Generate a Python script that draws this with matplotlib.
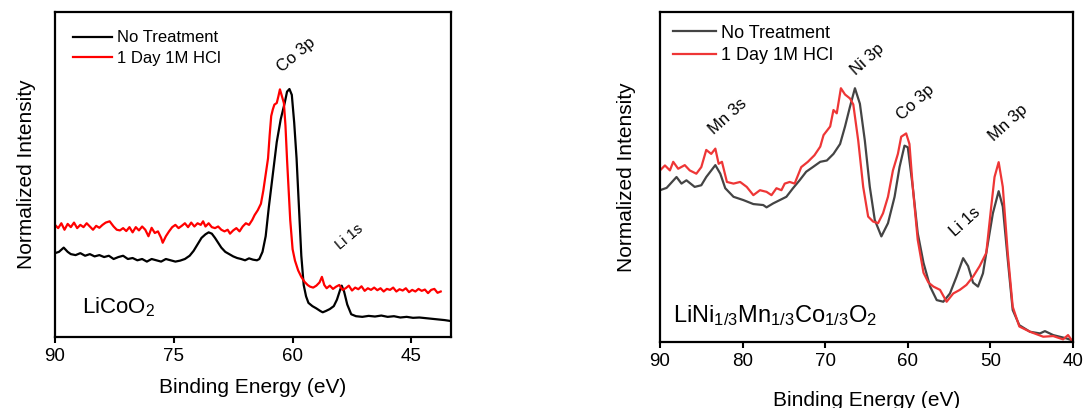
import matplotlib
matplotlib.use("Agg")
import matplotlib.pyplot as plt

plt.rcParams['font.family'] = ['Liberation Sans', 'DejaVu Sans']
plt.rcParams['mathtext.fontset'] = 'custom'
plt.rcParams['mathtext.rm'] = 'Liberation Sans'
plt.rcParams['mathtext.it'] = 'Liberation Sans:italic'
plt.rcParams['mathtext.default'] = 'regular'

# LiCoO2 panel (binding energy in eV, normalized intensity)
lco_none_x = [90, 89.5, 88.9, 88.4, 88, 87.4, 86.8, 86.2, 85.6, 85, 84.4, 83.8, 83.2, 82.6, 82, 81.4,
              80.8, 80.2, 79.6, 79, 78.4, 77.8, 77.2, 76.6, 76, 75.4, 74.8, 74.2,
              73.6, 73, 72.5, 72, 71.5, 71, 70.6, 70.2, 69.8, 69.4, 69, 68.5, 68, 67.5, 67, 66.5,
              66, 65.5, 65, 64.5, 64.2,
              63.8, 63.4, 63, 62.5, 62, 61.5, 61, 60.7, 60.4, 60.1, 59.8, 59.5, 59.2, 58.9, 58.6,
              58.3, 58,
              57.5, 57, 56.5, 56.2, 55.8, 55.3, 54.8, 54.4, 54, 53.8, 53.5, 53.1, 52.6, 52, 51.2,
              50.4, 49.6, 48.8, 48, 47.2, 46.4, 45.6, 44.8, 44, 43.2, 42.4, 41.6, 40.8, 40]
lco_none_y = [0.258, 0.262, 0.275, 0.262, 0.255, 0.252, 0.258, 0.25, 0.255, 0.248, 0.252, 0.246, 0.25,
              0.24, 0.246, 0.25, 0.24, 0.243, 0.236, 0.24, 0.232, 0.24, 0.236, 0.232, 0.24, 0.236,
              0.232, 0.235,
              0.24, 0.25, 0.265, 0.285, 0.305, 0.316, 0.322, 0.318, 0.305, 0.29, 0.275, 0.262, 0.255,
              0.248, 0.243, 0.24, 0.236, 0.242, 0.238, 0.236, 0.24,
              0.262, 0.31, 0.4, 0.5, 0.6, 0.67, 0.72, 0.755, 0.763, 0.745, 0.66, 0.55, 0.4, 0.25,
              0.16, 0.125, 0.105,
              0.095, 0.088, 0.08, 0.076, 0.08, 0.086, 0.095, 0.115, 0.145, 0.158, 0.14, 0.1, 0.07,
              0.064, 0.062, 0.065, 0.063, 0.066, 0.062, 0.064, 0.06, 0.062, 0.059, 0.06, 0.058,
              0.056, 0.054, 0.052, 0.049]
lco_hcl_x = [90, 89.6, 89.2, 88.8, 88.4, 88, 87.6, 87.2, 86.8, 86.4, 86, 85.6, 85.2, 84.8, 84.4, 84,
             83.6, 83.1, 82.6, 82.2,
             81.8, 81.4, 81, 80.6, 80.2, 79.8, 79.4, 79, 78.6, 78.2, 77.8, 77.4, 77, 76.6, 76.4, 76,
             75.6, 75.2, 74.8, 74.4,
             74, 73.6, 73.2, 72.8, 72.4, 72, 71.6, 71.3, 71, 70.6, 70.2, 69.8, 69.4, 69, 68.6, 68.2,
             67.9, 67.5, 67.1, 66.7,
             66.3, 65.9, 65.5, 65.1, 64.8, 64.4, 64, 63.7, 63.4, 63.1, 62.9, 62.7, 62.5, 62.3, 62,
             61.8, 61.6, 61.4, 61.1, 60.9,
             60.7, 60.5, 60.3, 60, 59.7, 59.3, 58.9, 58.5, 58.1, 57.8, 57.4, 57, 56.6, 56.3, 56,
             55.7, 55.3, 54.9, 54.5, 54.1,
             53.7, 53.3, 52.9, 52.5, 52.1, 51.7, 51.3, 50.9, 50.5, 50.1, 49.7, 49.3, 48.9, 48.5,
             48.1, 47.7, 47.3, 46.9, 46.5, 46.1,
             45.7, 45.3, 44.9, 44.5, 44.1, 43.7, 43.3, 42.9, 42.5, 42.1, 41.7, 41.3]
lco_hcl_y = [0.345, 0.335, 0.35, 0.33, 0.348, 0.338, 0.352, 0.335, 0.345, 0.338, 0.35, 0.34, 0.33,
             0.342, 0.336, 0.345, 0.352, 0.356, 0.34, 0.33,
             0.328, 0.335, 0.326, 0.338, 0.322, 0.338, 0.328, 0.34, 0.33, 0.31, 0.336, 0.32, 0.325,
             0.305, 0.29, 0.31, 0.325, 0.338, 0.345, 0.335,
             0.342, 0.35, 0.338, 0.352, 0.34, 0.35, 0.345, 0.356, 0.34, 0.35, 0.338, 0.335, 0.34,
             0.33, 0.325, 0.33, 0.318, 0.328, 0.335, 0.325,
             0.34, 0.35, 0.345, 0.36, 0.375, 0.39, 0.41, 0.45, 0.5, 0.55, 0.62, 0.68, 0.7, 0.715,
             0.72, 0.74, 0.762, 0.745, 0.72, 0.65,
             0.545, 0.45, 0.36, 0.27, 0.235, 0.205, 0.185, 0.17, 0.16, 0.155, 0.152, 0.158, 0.168,
             0.185, 0.16, 0.15, 0.158, 0.148, 0.155, 0.16,
             0.145, 0.15, 0.158, 0.143, 0.152, 0.147, 0.156, 0.142, 0.15, 0.145, 0.152, 0.144,
             0.15, 0.14, 0.148, 0.145, 0.152, 0.14, 0.147, 0.143,
             0.15, 0.138, 0.145, 0.14, 0.148, 0.142, 0.146, 0.135, 0.145, 0.148, 0.136, 0.14]

# LiNi1/3Mn1/3Co1/3O2 panel
nmc_none_x = [90, 89.2, 88, 87.4, 86.8, 85.8, 85, 84.4, 83.3, 82.7, 82.1, 81.1, 79.9, 78.7, 77.5,
              77.1, 76.3, 75.5, 74.7, 73.9, 73.1, 72.3, 71.5, 70.6, 69.8, 69, 68.2, 67.6, 67, 66.4,
              65.8, 65.2, 64.6, 64, 63.2, 62.4, 61.6, 61, 60.4, 60, 59.4, 58.8, 58.1, 57.3, 56.5,
              55.7, 54.9, 54.1, 53.3, 52.7, 52.1, 51.5, 50.9, 50.3, 49.7, 49, 48.5, 47.9, 47.3, 46.5,
              45.2, 44, 43.4, 42.4, 40.8, 40]
nmc_none_y = [0.46, 0.467, 0.5, 0.48, 0.49, 0.47, 0.475, 0.5, 0.536, 0.51, 0.466, 0.44, 0.43, 0.418,
              0.415, 0.408, 0.42, 0.43, 0.44, 0.466, 0.49, 0.516, 0.53, 0.546, 0.55, 0.57, 0.6, 0.653,
              0.713, 0.769, 0.722, 0.61, 0.47, 0.37, 0.32, 0.36, 0.44, 0.53, 0.595, 0.59, 0.47, 0.33,
              0.24, 0.168, 0.127, 0.122, 0.147, 0.198, 0.254, 0.23, 0.18, 0.168, 0.208, 0.3, 0.39,
              0.457, 0.41, 0.25, 0.097, 0.051, 0.031, 0.026, 0.033, 0.021, 0.011, 0.004]
nmc_hcl_x = [90, 89.4, 88.8, 88.4, 87.8, 87, 86.4, 85.6, 85, 84.4, 83.8, 83.3, 82.9, 82.5, 81.9,
             81.1, 80.3, 79.5, 78.7, 77.9, 77.1, 76.5, 75.9, 75.3, 74.9, 74.3, 73.7, 72.9, 72.1,
             71.3, 70.6, 70.2, 69.4, 69, 68.6, 68.1, 67.6, 67, 66.6, 66, 65.4, 64.8, 64.2, 63.6, 63,
             62.4, 61.8, 61.2, 60.8, 60.2, 59.8, 59.4, 58.8, 58.1, 57.5, 56.9, 56.1, 55.3, 54.5,
             53.7, 52.9, 52.1, 51.3, 50.5, 49.9, 49.5, 49, 48.5, 47.9, 47.3, 46.5, 45.2, 43.6, 42.4,
             41.2, 40.6, 40]
nmc_hcl_y = [0.52, 0.535, 0.52, 0.546, 0.525, 0.536, 0.52, 0.51, 0.53, 0.582, 0.57, 0.586, 0.54,
             0.546, 0.485, 0.48, 0.485, 0.47, 0.445, 0.46, 0.455, 0.445, 0.466, 0.46, 0.48, 0.485,
             0.48, 0.53, 0.546, 0.566, 0.592, 0.627, 0.653, 0.703, 0.693, 0.769, 0.75, 0.738, 0.72,
             0.61, 0.47, 0.38, 0.365, 0.36, 0.39, 0.44, 0.52, 0.57, 0.622, 0.632, 0.6, 0.47, 0.31,
             0.21, 0.18, 0.168, 0.158, 0.122, 0.147, 0.158, 0.173, 0.198, 0.23, 0.27, 0.41, 0.5,
             0.545, 0.47, 0.27, 0.107, 0.047, 0.031, 0.016, 0.018, 0.008, 0.021, 0.0]

legend_labels = ['No Treatment', '1 Day 1M HCl']
lco_peaks = [('Co 3p', 59.5, 0.868, 12), ('Li 1s', 52.8, 0.308, 10.5)]
nmc_peaks = [('Mn 3s', 81.8, 0.682, 12), ('Ni 3p', 64.9, 0.855, 12), ('Co 3p', 59.1, 0.727, 12),
             ('Li 1s', 53.1, 0.364, 12), ('Mn 3p', 47.9, 0.664, 12)]

fig = plt.figure(figsize=(10.87, 4.08), dpi=100)
W, H = 1087.0, 408.0
ax1 = fig.add_axes([55 / W, (H - 337) / H, 396 / W, 325 / H])
ax2 = fig.add_axes([660 / W, (H - 342) / H, 413 / W, 330 / H])


def style(ax, ticks, xpad, ypad):
    ax.set_xlim(90, 40)
    ax.set_ylim(0, 1)
    ax.set_xticks(ticks)
    ax.set_yticks([])
    ax.tick_params(axis='x', direction='out', length=4, width=1.5, labelsize=13.5, pad=4)
    for s in ax.spines.values():
        s.set_linewidth(1.6)
    ax.set_xlabel('Binding Energy (eV)', fontsize=15, labelpad=xpad)
    ax.set_ylabel('Normalized Intensity', fontsize=15, labelpad=ypad)


ax1.plot(lco_none_x, lco_none_y, color='black', lw=1.6, label=legend_labels[0])
ax1.plot(lco_hcl_x, lco_hcl_y, color='#ff0000', lw=1.6, label=legend_labels[1])
style(ax1, [90, 75, 60, 45], 9, 13.5)
ax1.legend(loc='upper left', frameon=False, fontsize=12, handlelength=2.3, handletextpad=0.3,
           borderaxespad=0.7, labelspacing=0.33)
for name, x, y, fs in lco_peaks:
    ax1.text(x, y, name, rotation=40, fontsize=fs, ha='center', va='center')
ax1.text(0.068, 0.074, 'LiCoO$_2$', transform=ax1.transAxes, fontsize=16)

ax2.plot(nmc_none_x, nmc_none_y, color='#444444', lw=1.6, label=legend_labels[0])
ax2.plot(nmc_hcl_x, nmc_hcl_y, color='#ee3636', lw=1.6, label=legend_labels[1])
style(ax2, [90, 80, 70, 60, 50, 40], 15, 17)
ax2.legend(loc='upper left', frameon=False, fontsize=13, handlelength=2.4, handletextpad=0.3,
           borderaxespad=0.3, labelspacing=0.3)
for name, x, y, fs in nmc_peaks:
    ax2.text(x, y, name, rotation=42, fontsize=fs, ha='center', va='center')
ax2.text(0.031, 0.06, 'LiNi$_{1/3}$Mn$_{1/3}$Co$_{1/3}$O$_2$', transform=ax2.transAxes, fontsize=17)

fig.savefig('out.png', dpi=100)
